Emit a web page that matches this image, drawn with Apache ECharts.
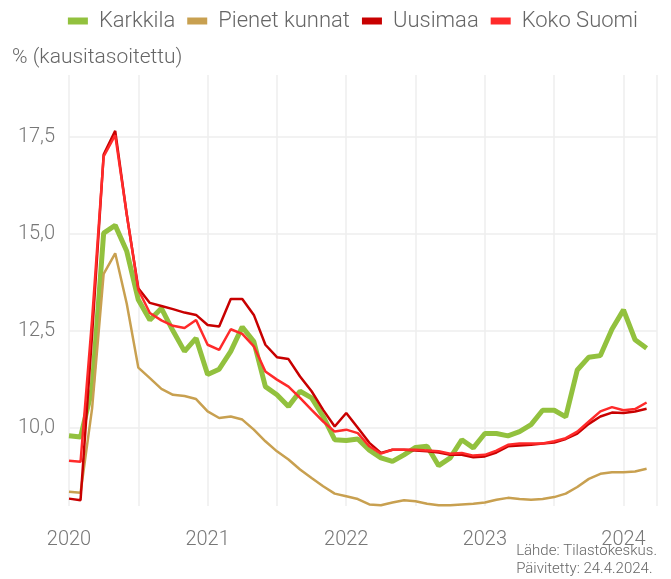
<!DOCTYPE html>
<html>
<head>
<meta charset="utf-8">
<script src="https://cdn.jsdelivr.net/npm/echarts@6/dist/echarts.min.js"></script>
<style>
    html, body { margin: 0; padding: 0; background: #fff; }
    #chart { width: 671px; height: 579px; }
</style>
</head>
<body>
<div id="chart"></div>
<script>
// kuukaudet 2020-01 ... 2024-03
var months = [];
for (var y = 2020; y <= 2024; y++) {
    for (var m = 1; m <= 12; m++) {
        if (y === 2024 && m > 3) break;
        months.push(y + '-' + (m < 10 ? '0' + m : m));
    }
}

var karkkila = [9.79, 9.76, 11.0, 15.02, 15.22, 14.55, 13.3, 12.78, 13.08, 12.5, 11.97, 12.31,
    11.37, 11.51, 11.97, 12.6, 12.22, 11.06, 10.85, 10.55, 10.94, 10.77, 10.29, 9.69,
    9.67, 9.71, 9.42, 9.22, 9.13, 9.30, 9.49, 9.52, 9.02, 9.22, 9.69, 9.48,
    9.85, 9.85, 9.79, 9.90, 10.08, 10.45, 10.45, 10.28, 11.49, 11.82, 11.86, 12.54,
    13.04, 12.27, 12.05];
var pienetKunnat = [8.35, 8.32, 10.5, 13.97, 14.5, 13.2, 11.55, 11.28, 11.0, 10.85, 10.82, 10.74,
    10.42, 10.25, 10.29, 10.21, 9.95, 9.65, 9.39, 9.18, 8.92, 8.70, 8.49, 8.30,
    8.23, 8.16, 8.02, 8.0, 8.07, 8.13, 8.10, 8.04, 8.0, 8.0, 8.02, 8.04,
    8.07, 8.14, 8.19, 8.16, 8.14, 8.16, 8.21, 8.30, 8.47, 8.68, 8.81, 8.85,
    8.85, 8.87, 8.94];
var uusimaa = [8.17, 8.13, 12.4, 17.05, 17.66, 15.5, 13.6, 13.22, 13.14, 13.06, 12.97, 12.91,
    12.65, 12.61, 13.32, 13.32, 12.91, 12.14, 11.82, 11.77, 11.32, 10.94, 10.46, 10.03,
    10.38, 10.0, 9.61, 9.35, 9.43, 9.43, 9.41, 9.39, 9.36, 9.30, 9.30, 9.24,
    9.26, 9.36, 9.52, 9.54, 9.56, 9.59, 9.62, 9.71, 9.85, 10.10, 10.29, 10.39,
    10.38, 10.42, 10.49];
var kokoSuomi = [9.15, 9.12, 12.8, 17.0, 17.55, 15.5, 13.56, 12.96, 12.77, 12.63, 12.57, 12.78,
    12.14, 12.01, 12.54, 12.42, 12.10, 11.45, 11.24, 11.06, 10.77, 10.46, 10.16, 9.90,
    9.95, 9.86, 9.52, 9.33, 9.43, 9.43, 9.43, 9.41, 9.39, 9.33, 9.35, 9.28,
    9.30, 9.41, 9.56, 9.59, 9.59, 9.59, 9.65, 9.73, 9.90, 10.16, 10.42, 10.53,
    10.45, 10.48, 10.65];
var yTicks = [10, 12.5, 15, 17.5];

function pairs(list) { // [kuukausi-indeksi, arvo]
    return list.map(function(v, i) { return [i, v]; });
}

var font = 'Roboto, "Noto Sans", sans-serif';
var myChart = echarts.init(document.getElementById('chart'));

var option = {
    backgroundColor: '#fff',
    textStyle: { fontFamily: font },
    grid: { left: 69, right: 14, top: 75, bottom: 73 },
    legend: {
        top: 5,
        right: 28,
        itemWidth: 20,
        itemHeight: 7,
        itemGap: 12,
        icon: 'rect',
        textStyle: { fontSize: 22, color: '#666', fontWeight: 300, fontFamily: font, padding: [0, 0, 0, 6] },
        data: ['Karkkila', 'Pienet kunnat', 'Uusimaa', 'Koko Suomi']
    },
    graphic: [{
        type: 'text', left: 12, top: 47,
        style: { text: '% (kausitasoitettu)', fontSize: 21, fontWeight: 300, fill: '#666', fontFamily: font }
    }, {
        type: 'text', right: 14, top: 542,
        style: { text: 'Lähde: Tilastokeskus.\nPäivitetty: 24.4.2024.', fontSize: 15, lineHeight: 18,
            fontWeight: 300, fill: '#666', align: 'right', fontFamily: font }
    }],
    xAxis: {
        type: 'value',
        min: 0,
        max: 50.9,
        interval: 6,
        axisLine: { show: false },
        axisTick: { show: false },
        splitLine: { show: true, lineStyle: { color: '#eeeeee', width: 1.5 } },
        axisLabel: {
            margin: 24,
            fontSize: 20,
            fontWeight: 300,
            color: '#777',
            formatter: function(v) {
                return v % 12 === 0 ? String(2020 + v / 12) : '';
            }
        }
    },
    yAxis: {
        type: 'value',
        min: 7.98,
        max: 19.1,
        axisLine: { show: false },
        axisTick: { show: false, customValues: yTicks },
        splitLine: { show: true, lineStyle: { color: '#eeeeee', width: 1.5 } },
        axisLabel: {
            customValues: yTicks,
            margin: 14,
            fontSize: 20,
            fontWeight: 300,
            color: '#777',
            formatter: function(v) { return v.toFixed(1).replace('.', ','); }
        }
    },
    series: [{
        name: 'Karkkila',
        type: 'line',
        symbol: 'none',
        data: pairs(karkkila),
        itemStyle: { color: '#92c13e' },
        lineStyle: { color: '#92c13e', width: 5 }
    }, {
        name: 'Pienet kunnat',
        type: 'line',
        symbol: 'none',
        data: pairs(pienetKunnat),
        itemStyle: { color: '#c8a050' },
        lineStyle: { color: '#c8a050', width: 2.5 }
    }, {
        name: 'Uusimaa',
        type: 'line',
        symbol: 'none',
        data: pairs(uusimaa),
        itemStyle: { color: '#c80000' },
        lineStyle: { color: '#c80000', width: 2.5 }
    }, {
        name: 'Koko Suomi',
        type: 'line',
        symbol: 'none',
        data: pairs(kokoSuomi),
        itemStyle: { color: '#ff2a2a' },
        lineStyle: { color: '#ff2a2a', width: 2.5 }
    }],
    animation: false
};
myChart.setOption(option);
</script>
</body>
</html>
